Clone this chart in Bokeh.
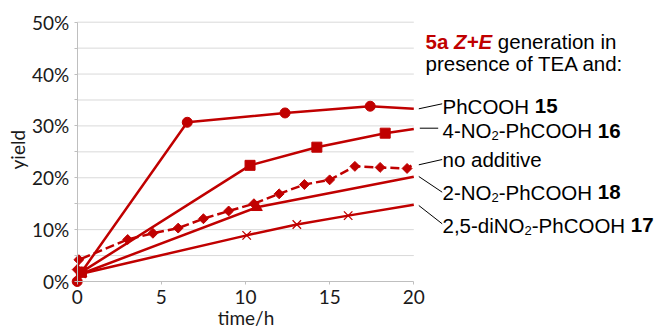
import math
from bokeh.plotting import figure
from bokeh.models import (Label, Arrow, PrintfTickFormatter, FixedTicker, Range1d,
                          ColumnDataSource, CDSView, IndexFilter)
from bokeh.embed import file_html
from bokeh.resources import INLINE

RED = "#C00000"

# ---------------- data (time in h, yield in %) ----------------
# last point of each series is where its line meets the right edge (t = 20 h), no marker there
t_15 = [0, 0.25, 6.54, 12.35, 17.41, 20.0]
y_15 = [0.0, 1.8, 30.7, 32.5, 33.8, 33.3]

t_16 = [0.25, 10.27, 14.24, 18.3, 20.0]
y_16 = [1.8, 22.4, 25.9, 28.6, 29.4]

t_na = [0, 0.1, 3.0, 4.5, 6.0, 7.5, 9.0, 10.5, 12.0, 13.5, 15.0, 16.5, 18.0, 19.6, 20.0]
y_na = [2.3, 4.2, 8.1, 9.3, 10.3, 12.1, 13.6, 15.0, 16.9, 18.7, 19.6, 22.2, 22.0, 21.8, 22.7]

t_18 = [0.25, 10.67, 20.0]
y_18 = [1.5, 14.3, 20.2]

t_17 = [0.25, 10.07, 13.05, 16.1, 20.0]
y_17 = [1.5, 8.9, 11.0, 12.7, 14.8]

x_ticks = [0, 5, 10, 15, 20]
y_ticks = [0, 10, 20, 30, 40, 50]
y_minor = [5, 15, 25, 35, 45]
grid_levels = [5, 10, 15, 20, 25, 30, 35, 40, 45, 50]

title_1 = [("5a", True, False, RED), ("Z+E", True, True, RED), ("generation in", False, False, "black")]
title_2 = "presence of TEA and:"
series_labels = [
    [("PhCOOH", False, False), ("15", True, False)],
    [("4-NO", False, False), ("2", False, True), ("-PhCOOH", False, False), ("16", True, False)],
    [("no additive", False, False)],
    [("2-NO", False, False), ("2", False, True), ("-PhCOOH", False, False), ("18", True, False)],
    [("2,5-diNO", False, False), ("2", False, True), ("-PhCOOH", False, False), ("17", True, False)],
]

# ---------------- layout ----------------
W, H = 660, 328
PX0, PX20 = 76.7, 413.3      # pixel x of t=0 and t=20
PY0, PY50 = 281.0, 21.7      # pixel y of 0 % and 50 %
KX = (PX20 - PX0) / 20.0
KY = (PY0 - PY50) / 50.0
XR = (-PX0 / KX, (W - PX0) / KX)
YR = (-(H - PY0) / KY, PY0 / KY)
BASE_FIX = 6.5               # renderer puts alphabetic baselines this much lower

def dx(px):
    return (px - PX0) / KX

def dy(py):
    return (PY0 - py) / KY

p = figure(width=W, height=H, x_range=Range1d(*XR), y_range=Range1d(*YR),
           output_backend="svg", toolbar_location=None,
           min_border=0, min_border_left=0, min_border_right=0,
           min_border_top=0, min_border_bottom=0,
           outline_line_color=None, background_fill_color="white",
           border_fill_color="white")

p.xgrid.visible = False
p.ygrid.visible = False

AX = "#BFBFBF"
TICKFONT = "Lato"
for ax in (p.xaxis[0], p.yaxis[0]):
    ax.fixed_location = 0
    ax.axis_line_color = AX
    ax.axis_line_width = 1
    ax.major_tick_line_color = AX
    ax.minor_tick_line_color = AX
    ax.major_tick_in = 0
    ax.major_tick_out = 3
    ax.minor_tick_in = 0
    ax.minor_tick_out = 3
    ax.major_label_text_font = TICKFONT
    ax.major_label_text_font_size = "19px"
    ax.major_label_text_color = "#1a1a1a"

p.xaxis[0].bounds = (0, 20)
p.xaxis[0].ticker = FixedTicker(ticks=x_ticks)
p.xaxis[0].minor_tick_line_color = None
p.xaxis[0].major_label_standoff = 5
p.yaxis[0].bounds = (0, 50)
p.yaxis[0].ticker = FixedTicker(ticks=y_ticks, minor_ticks=y_minor)
p.yaxis[0].formatter = PrintfTickFormatter(format="%d%%")
p.yaxis[0].major_label_standoff = 5

# horizontal gridlines (bounded to the axis extent)
g = p.segment(x0=[x_ticks[0]] * len(grid_levels), x1=[x_ticks[-1]] * len(grid_levels),
              y0=grid_levels, y1=grid_levels, line_color="#D9D9D9", line_width=1)
g.level = "underlay"

# ---------------- series ----------------
def series(t, y, marker, size, dash="solid", angle=0.0, line_only_marker=False):
    src = ColumnDataSource(dict(t=t, y=y))
    p.line("t", "y", source=src, line_color=RED, line_width=2.5, line_dash=dash)
    view = CDSView(filter=IndexFilter(indices=list(range(len(t) - 1))))
    if line_only_marker:
        p.scatter("t", "y", source=src, view=view, marker=marker, size=size,
                  line_color=RED, line_width=1.3, fill_color=None)
    else:
        p.scatter("t", "y", source=src, view=view, marker=marker, size=size, angle=angle,
                  line_color=RED, fill_color=RED)

series(t_17, y_17, "x", 12, line_only_marker=True)
series(t_18, y_18, "triangle", 11)
series(t_16, y_16, "square", 10)
series(t_na, y_na, "square", 7, dash="9 4", angle=math.pi / 4)
series(t_15, y_15, "circle", 10)

# ---------------- texts ----------------
AR = {' ': 278, ',': 278, '-': 333, ':': 278, '+': 584, 'A': 667, 'C': 722, 'E': 667,
      'H': 722, 'N': 722, 'O': 778, 'P': 667, 'T': 611, 'Z': 611, 'a': 556, 'c': 500,
      'd': 556, 'e': 556, 'f': 278, 'g': 556, 'h': 556, 'i': 222, 'l': 222, 'n': 556,
      'o': 556, 'p': 556, 'r': 333, 's': 500, 't': 278, 'v': 500}
ARB = {' ': 278, '+': 584, 'E': 667, 'Z': 611, 'a': 556}

def tw(s, size, bold=False):
    tb = ARB if bold else AR
    return sum(tb.get(c, 556) for c in s) * size / 1000.0

LF = "Liberation Sans"
FS = 20.5
SUB = 13

def put(px, py, text, size, bold=False, italic=False, color="black"):
    style = "normal"
    if bold and italic:
        style = "bold italic"
    elif bold:
        style = "bold"
    elif italic:
        style = "italic"
    p.add_layout(Label(x=dx(px), y=dy(py - BASE_FIX), text=text,
                       text_font=LF, text_font_size=f"{size}px", text_font_style=style,
                       text_color=color, text_align="left", text_baseline="alphabetic"))

# title block
x = 425
for txt, b, it, col in title_1:
    put(x, 47.3, txt, FS, b, it, col)
    x += tw(txt, FS, b) + tw(" ", FS)
put(425, 69.5, title_2, FS)

# series labels
base_lines = [112.3, 136.7, 165.7, 198.3, 231.0]
for pieces, by in zip(series_labels, base_lines):
    x = 442
    for i, (txt, b, sub) in enumerate(pieces):
        if sub:
            put(x, by + 5, txt, SUB)
            x += tw(txt, SUB)
        else:
            put(x, by, txt, FS, b)
            x += tw(txt, FS, b)
            if i + 1 < len(pieces) and pieces[i + 1][1]:
                x += tw(" ", FS)

# leader lines (px coords)
leaders = [((418.3, 108.3), (441.7, 103.3)),
           ((419.3, 127.7), (437.7, 127.7)),
           ((418.3, 164.3), (441.7, 159.0)),
           ((418.3, 176.0), (441.7, 191.7)),
           ((418.3, 205.0), (441.7, 223.3))]

for (a, b) in leaders:
    p.add_layout(Arrow(x_start=dx(a[0]), y_start=dy(a[1]), x_end=dx(b[0]), y_end=dy(b[1]),
                       end=None, start=None, line_color="black", line_width=1))

# axis titles
p.add_layout(Label(x=dx(23 - BASE_FIX), y=dy(149.2), text="yield",
                   angle=math.pi / 2, text_font=TICKFONT, text_font_size="19px",
                   text_color="#1a1a1a", text_align="center", text_baseline="alphabetic"))
p.add_layout(Label(x=dx(245.5), y=dy(323.0 - BASE_FIX), text="time/h",
                   text_font=TICKFONT, text_font_size="19px",
                   text_color="#1a1a1a", text_align="center", text_baseline="alphabetic"))

open("out.html", "w").write(file_html(p, INLINE))
